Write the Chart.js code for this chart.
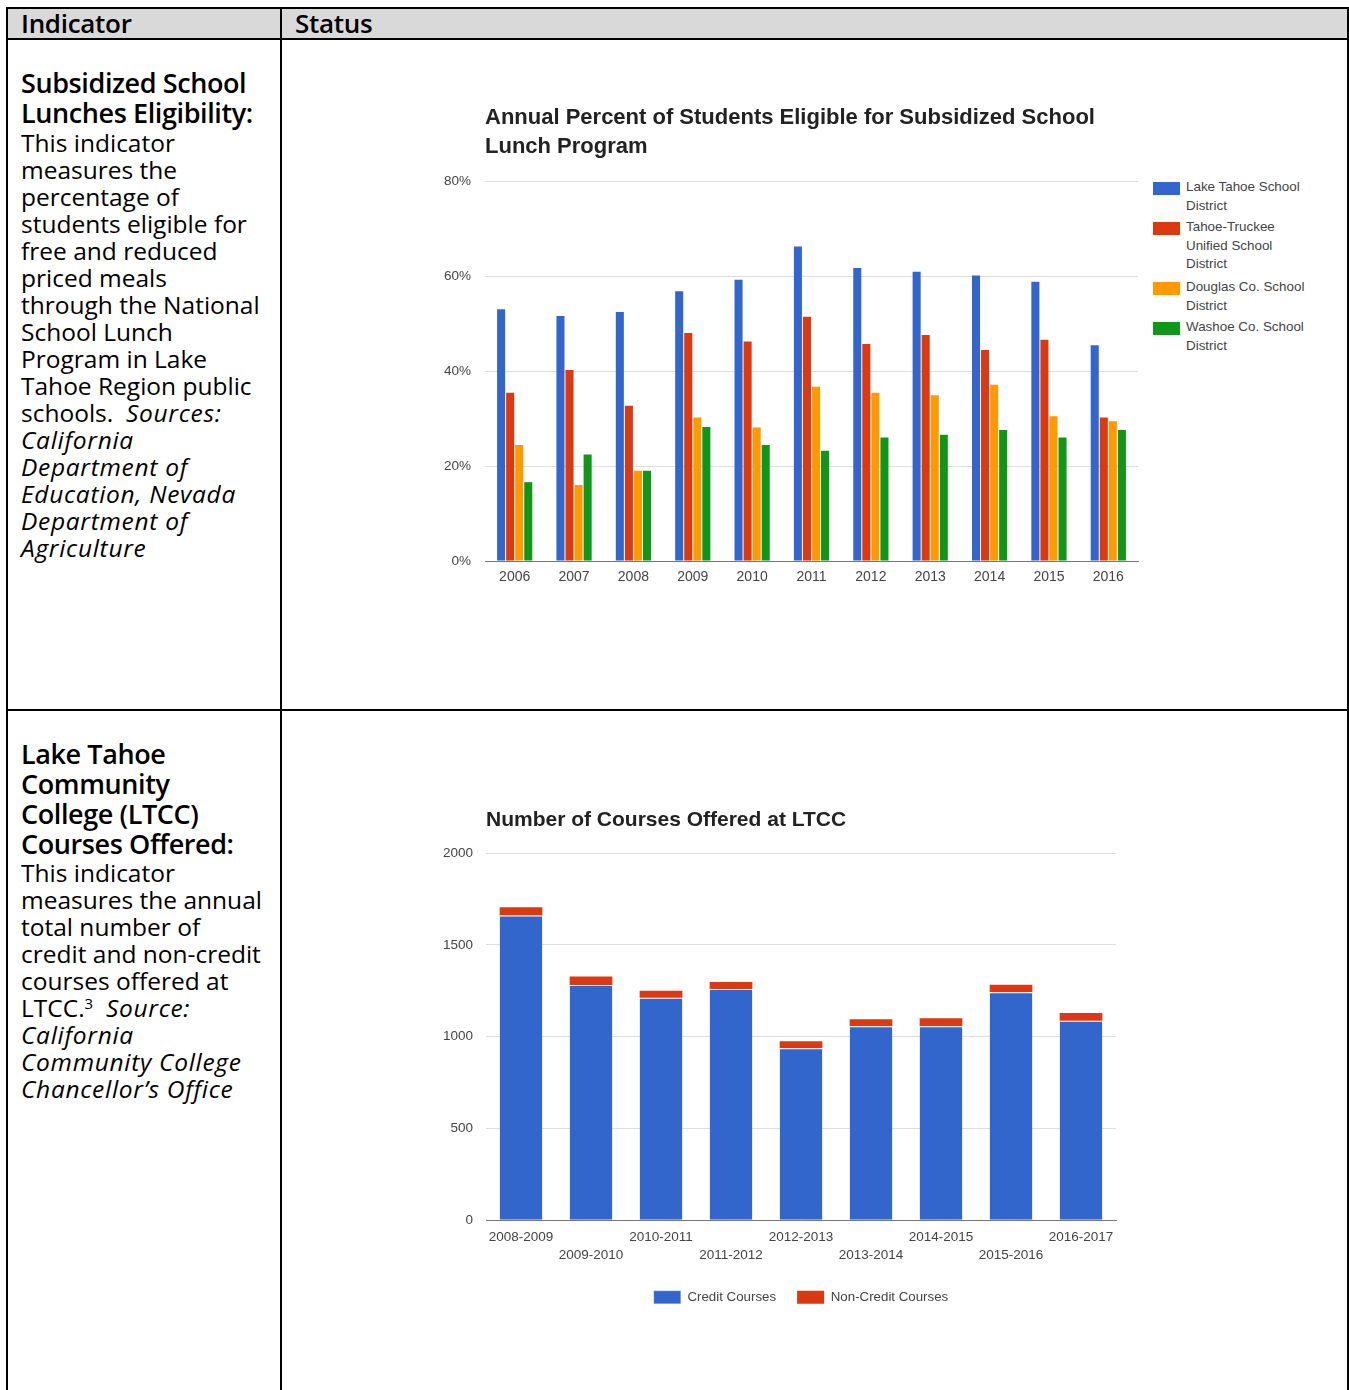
<!DOCTYPE html>
<html><head><meta charset="utf-8">
<script src="https://cdn.jsdelivr.net/npm/chart.js@4.4.0/dist/chart.umd.min.js"></script>
<style>
body{margin:0;background:#fff;width:1349px;height:1390px;overflow:hidden;position:relative;font-family:"Open Sans",sans-serif;}
.ln{position:absolute;background:#000;}
.blk{position:absolute;left:21px;white-space:nowrap;color:#000;}
.blk i{letter-spacing:0.7px;}
.h{font-weight:600;font-size:27px;line-height:30px;letter-spacing:-0.4px;}
.b{font-size:24.5px;line-height:27px;letter-spacing:0px;}
.hdr{position:absolute;top:8px;font-size:26px;font-weight:600;line-height:30px;letter-spacing:-0.3px;}
.leg{position:absolute;left:1153px;font-family:Arial,"Liberation Sans",sans-serif;font-size:13.4px;line-height:18.5px;color:#444;}
.leg i{position:absolute;left:0;width:27px;height:13px;}
.leg span{position:absolute;left:33px;white-space:nowrap;}
canvas{position:absolute;}
</style></head>
<body>
<div class="ln" style="left:6px;top:7px;width:1343px;height:32px;background:#d9d9d9"></div>
<div class="ln" style="left:6px;top:7px;width:1343px;height:2px"></div>
<div class="ln" style="left:6px;top:38px;width:1343px;height:2px"></div>
<div class="ln" style="left:6px;top:709px;width:1343px;height:2px"></div>
<div class="ln" style="left:6px;top:7px;width:2px;height:1383px"></div>
<div class="ln" style="left:280px;top:7px;width:2px;height:1383px"></div>
<div class="ln" style="left:1347px;top:7px;width:2px;height:1383px"></div>
<div class="hdr" style="left:21px">Indicator</div>
<div class="hdr" style="left:295px">Status</div>

<div class="blk h" style="top:68px">Subsidized School<br>Lunches Eligibility:</div>
<div class="blk b" style="top:128.5px">This indicator<br>measures the<br>percentage of<br>students eligible for<br>free and reduced<br>priced meals<br>through the National<br>School Lunch<br>Program in Lake<br>Tahoe Region public<br>schools.&nbsp; <i>Sources:</i><br><i>California</i><br><i>Department of</i><br><i>Education, Nevada</i><br><i>Department of</i><br><i>Agriculture</i></div>

<div class="blk h" style="top:739px">Lake Tahoe<br>Community<br>College (LTCC)<br>Courses Offered:</div>
<div class="blk b" style="top:858.5px">This indicator<br>measures the annual<br>total number of<br>credit and non-credit<br>courses offered at<br>LTCC.<span style="font-size:15px;line-height:0;position:relative;top:-8px">3</span>&nbsp;&nbsp;<i>Source:</i><br><i>California</i><br><i>Community College</i><br><i>Chancellor’s Office</i></div>

<canvas id="c1" width="720" height="510" style="left:430px;top:95px"></canvas>
<div class="leg" style="top:182px"><i style="background:#3366cc;top:0"></i><span style="top:-3.75px">Lake Tahoe School<br>District</span></div>
<div class="leg" style="top:222px"><i style="background:#dc3912;top:0"></i><span style="top:-3.75px">Tahoe-Truckee<br>Unified School<br>District</span></div>
<div class="leg" style="top:282px"><i style="background:#ff9900;top:0"></i><span style="top:-3.75px">Douglas Co. School<br>District</span></div>
<div class="leg" style="top:322px"><i style="background:#109618;top:0"></i><span style="top:-3.75px">Washoe Co. School<br>District</span></div>

<canvas id="c2" width="740" height="519" style="left:430px;top:795px"></canvas>

<script>
// ---- Chart 1 data ----
const years = ['2006','2007','2008','2009','2010','2011','2012','2013','2014','2015','2016'];
const lakeTahoe = [53.0,51.6,52.4,56.8,59.2,66.2,61.7,60.9,60.1,58.8,45.4];
const tahoeTruckee = [35.4,40.2,32.7,48.0,46.2,51.4,45.7,47.6,44.4,46.6,30.2];
const douglas = [24.4,16.0,19.0,30.2,28.1,36.7,35.4,34.9,37.1,30.5,29.4];
const washoe = [16.6,22.4,19.0,28.2,24.4,23.2,26.0,26.6,27.6,26.0,27.6];
const pctTicks = [0,20,40,60,80];

// ---- Chart 2 data ----
const schoolYears = ['2008-2009','2009-2010','2010-2011','2011-2012','2012-2013','2013-2014','2014-2015','2015-2016','2016-2017'];
const creditCourses = [1659,1281,1212,1259,936,1056,1056,1241,1087];
const nonCreditCourses = [45,47,38,38,38,38,44,42,42];
const courseTicks = [0,500,1000,1500,2000];

const FONT = 'Arial, "Liberation Sans", sans-serif';
Chart.defaults.font.family = FONT;
Chart.defaults.color = '#444';

const ds = (label, data, color) => ({label, data, backgroundColor: color, borderWidth: 0,
  barPercentage: 0.89, categoryPercentage: 0.61});

new Chart(document.getElementById('c1'), {
  type: 'bar',
  data: {labels: years, datasets: [
    ds('Lake Tahoe School District', lakeTahoe, '#3366cc'),
    ds('Tahoe-Truckee Unified School District', tahoeTruckee, '#dc3912'),
    ds('Douglas Co. School District', douglas, '#ff9900'),
    ds('Washoe Co. School District', washoe, '#109618')]},
  options: {
    responsive: false, animation: false, devicePixelRatio: 1,
    layout: {padding: {left: 0, right: 12, top: 0, bottom: 0}},
    plugins: {
      legend: {display: false}, tooltip: {enabled: false},
      title: {display: true, fullSize: false, align: 'start', color: '#222',
        text: ['Annual Percent of Students Eligible for Subsidized School', 'Lunch Program'],
        font: {size: 22, weight: 'bold', lineHeight: 29/22}, padding: {top: 8.5, bottom: 19.5}}
    },
    scales: {
      x: {grid: {display: false, drawTicks: false}, border: {display: true, color: '#777', width: 1},
        ticks: {padding: 8, font: {size: 14}, maxRotation: 0, autoSkip: false},
        afterFit: s => { s.height = 44; }},
      y: {min: 0, max: 80, afterBuildTicks: s => { s.ticks = pctTicks.map(v => ({value: v})); },
        grid: {color: '#dddddd', drawTicks: false}, border: {display: false},
        ticks: {padding: 14, font: {size: 13.5}, callback: v => v + '%'},
        afterFit: s => { s.width = 55; }}
    }
  }
});

new Chart(document.getElementById('c2'), {
  type: 'bar',
  data: {labels: schoolYears, datasets: [
    {label: 'Credit Courses', data: creditCourses, backgroundColor: '#3366cc',
     borderColor: '#ffffff', borderWidth: {top: 1, left: 0, right: 0, bottom: 0}, borderSkipped: false,
     barPercentage: 1, categoryPercentage: 0.61},
    {label: 'Non-Credit Courses', data: nonCreditCourses, backgroundColor: '#dc3912', borderWidth: 0,
     barPercentage: 1, categoryPercentage: 0.61}]},
  options: {
    responsive: false, animation: false, devicePixelRatio: 1,
    layout: {padding: {left: 0, right: 54, top: 0, bottom: 0}},
    plugins: {
      tooltip: {enabled: false},
      legend: {position: 'bottom', fullSize: false,
        labels: {boxWidth: 27, boxHeight: 13, padding: 21, color: '#444', font: {size: 13.3}}},
      title: {display: true, fullSize: false, align: 'start', color: '#222',
        text: 'Number of Courses Offered at LTCC',
        font: {size: 21, weight: 'bold', lineHeight: 29/21}, padding: {top: 10.5, bottom: 18.5}}
    },
    scales: {
      x: {stacked: true, grid: {display: false, drawTicks: false}, border: {display: true, color: '#777', width: 1},
        ticks: {padding: 8, font: {size: 13.5, lineHeight: 18/13.5}, maxRotation: 0, autoSkip: false,
          callback: (v, i) => i % 2 === 0 ? schoolYears[i] : ['', schoolYears[i]]},
        afterFit: s => { s.height = 49.5; }},
      y: {stacked: true, min: 0, max: 2000, afterBuildTicks: s => { s.ticks = courseTicks.map(v => ({value: v})); },
        grid: {color: '#dddddd', drawTicks: false}, border: {display: false},
        ticks: {padding: 13, font: {size: 13.5}, callback: v => String(v)},
        afterFit: s => { s.width = 56; }}
    }
  }
});
</script>
</body></html>
